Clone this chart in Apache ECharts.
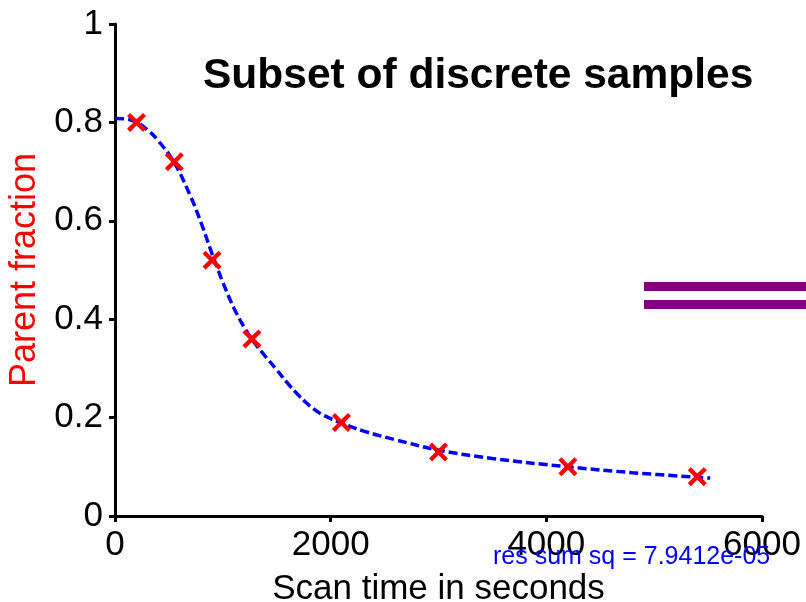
<!DOCTYPE html>
<html>
<head>
<meta charset="utf-8">
<script src="https://cdn.jsdelivr.net/npm/echarts@6/dist/echarts.min.js"></script>
<style>html,body{margin:0;padding:0;background:#fff}#c{width:806px;height:602px}</style>
</head>
<body>
<div id="c"></div>
<script>
// Sample points (scan time in s, parent fraction)
const sampleTimes = [200, 550, 900, 1270, 2100, 3000, 4200, 5400];
const sampleFractions = [0.80, 0.72, 0.52, 0.36, 0.19, 0.13, 0.10, 0.08];
// Fitted curve
const curveTimes = [0, 100, 200, 300, 400, 550, 700, 800, 900, 1000, 1100, 1200, 1300, 1400, 1500, 1600, 1700, 1800, 1900, 2000, 2100, 2300, 2600, 3000, 3500, 4200, 4800, 5520];
const curveFractions = [0.808, 0.807, 0.800, 0.785, 0.763, 0.718, 0.650, 0.595, 0.533, 0.475, 0.424, 0.383, 0.350, 0.323, 0.297, 0.270, 0.246, 0.225, 0.209, 0.198, 0.189, 0.173, 0.155, 0.134, 0.117, 0.100, 0.088, 0.077];
const xTicks = { min: 0, max: 6000, interval: 2000 };
const yTicks = { min: 0, max: 1, interval: 0.2 };
const titleText = 'Subset of discrete samples';
const xName = 'Scan time in seconds';
const yName = 'Parent fraction';
const residualText = 'res sum sq = 7.9412e-05';

const FONT = 'Liberation Sans, Arial, sans-serif';
const chart = echarts.init(document.getElementById('c'), null, { renderer: 'canvas' });
const xMark = 'path://M0,3.2 L3.2,0 L10,6.8 L16.8,0 L20,3.2 L13.2,10 L20,16.8 L16.8,20 L10,13.2 L3.2,20 L0,16.8 L6.8,10 Z';

chart.setOption({
  backgroundColor: '#ffffff',
  animation: false,
  title: {
    text: titleText,
    left: 203, top: 54, padding: 0,
    textStyle: { fontFamily: FONT, fontSize: 42.5, fontWeight: 'bold', color: '#000', lineHeight: 44 }
  },
  grid: { left: 115, right: 44, top: 24, bottom: 86, outerBoundsMode: 'none', containLabel: false },
  xAxis: {
    type: 'value', min: xTicks.min, max: xTicks.max, interval: xTicks.interval,
    name: xName, nameLocation: 'middle', nameGap: 56,
    nameTextStyle: { fontFamily: FONT, fontSize: 35, color: '#000' },
    axisLine: { show: true, lineStyle: { color: '#000', width: 3 } },
    axisTick: { show: true, inside: false, length: 6, lineStyle: { color: '#000', width: 3 } },
    axisLabel: { fontFamily: FONT, fontSize: 35, color: '#000', margin: 12, formatter: v => String(v) },
    splitLine: { show: false }
  },
  yAxis: {
    type: 'value', min: yTicks.min, max: yTicks.max, interval: yTicks.interval,
    name: yName, nameLocation: 'middle', nameGap: 72, nameRotate: 90,
    nameTextStyle: { fontFamily: FONT, fontSize: 36, color: '#ff0000' },
    axisLine: { show: true, lineStyle: { color: '#000', width: 3 } },
    axisTick: { show: true, inside: false, length: 6, lineStyle: { color: '#000', width: 3 } },
    axisLabel: { fontFamily: FONT, fontSize: 35, color: '#000', margin: 12, formatter: v => String(Math.round(v * 10) / 10) },
    splitLine: { show: false }
  },
  series: [
    {
      type: 'line', smooth: 0.4, showSymbol: false, z: 2,
      data: curveTimes.map((t, i) => [t, curveFractions[i]]),
      lineStyle: { color: '#0000ff', width: 3.5, type: [9, 4] }
    },
    {
      type: 'scatter', z: 3, symbol: xMark, symbolSize: 19,
      data: sampleTimes.map((t, i) => [t, sampleFractions[i]]),
      itemStyle: { color: '#ff0000', opacity: 1 }
    }
  ],
  graphic: [
    { type: 'rect', shape: { x: 644, y: 282, width: 162, height: 9 }, style: { fill: '#800080' } },
    { type: 'rect', shape: { x: 644, y: 300, width: 162, height: 9 }, style: { fill: '#800080' } },
    { type: 'text', left: 493, top: 545, z: 10,
      style: { text: residualText, fontFamily: FONT, fontSize: 25, fill: '#0000ff' } }
  ]
});
</script>
</body>
</html>
